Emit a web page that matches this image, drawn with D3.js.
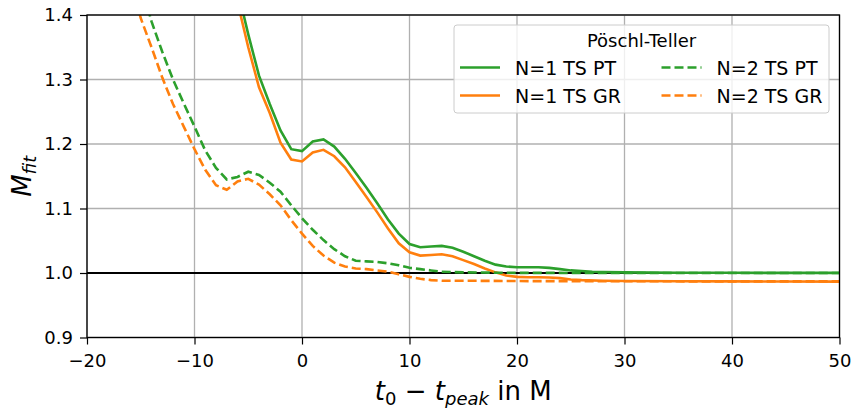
<!DOCTYPE html>
<html lang="en">
<head>
<meta charset="utf-8">
<title>M_fit</title>
<script src="https://cdn.jsdelivr.net/npm/d3@7/dist/d3.min.js"></script>
<style>
  body { margin: 0; background: #fff; }
  svg text { font-family: "DejaVu Sans", sans-serif; fill: #000; }
</style>
</head>
<body>
<svg width="853" height="408"></svg>
<script>
// values
var n1ptT = [-6, -5, -4, -3, -2, -1, 0, 1, 2, 3, 4, 5, 6, 7, 8, 9, 10, 11, 12, 13, 14, 15, 16, 17, 18, 19, 20, 21, 22, 23, 24, 25, 26, 27, 28, 30, 35, 40, 45, 50];
var n1ptM = [1.44, 1.37, 1.306, 1.262, 1.221, 1.192, 1.189, 1.204, 1.207, 1.196, 1.177, 1.155, 1.132, 1.108, 1.083, 1.061, 1.045, 1.040, 1.041, 1.042, 1.039, 1.033, 1.026, 1.019, 1.013, 1.010, 1.009, 1.009, 1.009, 1.008, 1.006, 1.004, 1.003, 1.002, 1.0015, 1.001, 1.0005, 1.0003, 1.0002, 1.0002];

var n1grT = [-6, -5, -4, -3, -2, -1, 0, 1, 2, 3, 4, 5, 6, 7, 8, 9, 10, 11, 12, 13, 14, 15, 16, 17, 18, 19, 20, 21, 22, 23, 24, 25, 26, 28, 30, 35, 40, 45, 50];
var n1grM = [1.42, 1.35, 1.288, 1.248, 1.202, 1.176, 1.173, 1.187, 1.191, 1.181, 1.164, 1.141, 1.118, 1.094, 1.069, 1.046, 1.032, 1.027, 1.028, 1.029, 1.026, 1.020, 1.014, 1.007, 1.001, 0.996, 0.994, 0.9935, 0.9933, 0.993, 0.992, 0.990, 0.989, 0.988, 0.9876, 0.9872, 0.987, 0.9868, 0.9866];

var n2ptT = [-15, -14, -13, -12, -11, -10, -9, -8, -7, -6, -5, -4, -3, -2, -1, 0, 1, 2, 3, 4, 5, 6, 7, 8, 9, 10, 11, 12, 13, 15, 18, 20, 30, 40, 50];
var n2ptM = [1.45, 1.39, 1.343, 1.30, 1.263, 1.227, 1.190, 1.163, 1.145, 1.149, 1.157, 1.152, 1.140, 1.126, 1.105, 1.085, 1.067, 1.051, 1.037, 1.026, 1.019, 1.018, 1.017, 1.015, 1.012, 1.008, 1.006, 1.004, 1.002, 1.001, 1.0005, 1.0002, 1.0, 1.0, 1.0];

var n2grT = [-16, -15, -14, -13, -12, -11, -10, -9, -8, -7, -6, -5, -4, -3, -2, -1, 0, 1, 2, 3, 4, 5, 6, 7, 8, 9, 10, 11, 12, 13, 15, 20, 30, 40, 50];
var n2grM = [1.46, 1.395, 1.35, 1.303, 1.262, 1.227, 1.192, 1.160, 1.136, 1.129, 1.142, 1.146, 1.137, 1.122, 1.105, 1.082, 1.061, 1.042, 1.027, 1.016, 1.010, 1.007, 1.006, 1.004, 1.002, 0.998, 0.994, 0.991, 0.989, 0.988, 0.988, 0.9875, 0.9872, 0.987, 0.987];

var xTicks = [-20, -10, 0, 10, 20, 30, 40, 50];
var yTicks = [0.9, 1.0, 1.1, 1.2, 1.3, 1.4];
var seriesNames = ['N=1 TS PT', 'N=1 TS GR', 'N=2 TS PT', 'N=2 TS GR'];
var legendTitle = 'Pöschl-Teller';

var green = '#2ca02c', orange = '#ff7f0e';
var series = [
  {name: seriesNames[0], t: n1ptT, m: n1ptM, color: green, dash: null},
  {name: seriesNames[1], t: n1grT, m: n1grM, color: orange, dash: null},
  {name: seriesNames[2], t: n2ptT, m: n2ptM, color: green, dash: '9,4'},
  {name: seriesNames[3], t: n2grT, m: n2grM, color: orange, dash: '9,4'}
];

var pL = 87, pR = 839.5, pT = 15, pB = 337.5;
var x = d3.scaleLinear().domain([-20, 50]).range([pL, pR]);
var y = d3.scaleLinear().domain([0.9, 1.4]).range([pB, pT]);

var svg = d3.select('svg');

svg.append('defs').append('clipPath').attr('id', 'plotclip')
  .append('rect').attr('x', pL).attr('y', pT)
  .attr('width', pR - pL).attr('height', pB - pT);

// grid
var grid = svg.append('g');
grid.selectAll('line.vx').data(xTicks).enter().append('line')
  .attr('x1', d => x(d)).attr('x2', d => x(d))
  .attr('y1', pT).attr('y2', pB)
  .attr('stroke', '#b0b0b0').attr('stroke-width', 1.3);
grid.selectAll('line.hy').data(yTicks).enter().append('line')
  .attr('y1', d => y(d)).attr('y2', d => y(d))
  .attr('x1', pL).attr('x2', pR)
  .attr('stroke', '#b0b0b0').attr('stroke-width', 1.3);

var plot = svg.append('g').attr('clip-path', 'url(#plotclip)');

// reference line at M = 1
plot.append('line')
  .attr('x1', x(-20)).attr('x2', x(50))
  .attr('y1', y(1)).attr('y2', y(1))
  .attr('stroke', '#000').attr('stroke-width', 2);

var line = d3.line().x(d => x(d[0])).y(d => y(d[1]));

series.forEach(s => {
  plot.append('path')
    .datum(d3.zip(s.t, s.m))
    .attr('d', line)
    .attr('fill', 'none')
    .attr('stroke', s.color)
    .attr('stroke-width', 2.6)
    .attr('stroke-dasharray', s.dash);
});

// axes
var xAxis = svg.append('g').attr('transform', 'translate(0,' + pB + ')')
  .call(d3.axisBottom(x).tickValues(xTicks).tickSize(7).tickPadding(10)
    .tickFormat(d => d < 0 ? '\u2212' + Math.abs(d) : d));
var yAxis = svg.append('g').attr('transform', 'translate(' + pL + ',0)')
  .call(d3.axisLeft(y).tickValues(yTicks).tickSize(7).tickPadding(7)
    .tickFormat(d3.format('.1f')));
[xAxis, yAxis].forEach(a => {
  a.select('.domain').remove();
  a.selectAll('line').attr('stroke', '#000').attr('stroke-width', 1.2);
  a.selectAll('text').style('font-size', '18px').attr('font-family', 'DejaVu Sans');
});

// frame
svg.append('rect')
  .attr('x', pL).attr('y', pT)
  .attr('width', pR - pL).attr('height', pB - pT)
  .attr('fill', 'none').attr('stroke', '#000').attr('stroke-width', 1.3);

// axis labels
var xl = svg.append('text')
  .attr('x', (pL + pR) / 2).attr('y', 400)
  .attr('text-anchor', 'middle').style('font-size', '26px');
xl.append('tspan').attr('font-style', 'italic').text('t');
xl.append('tspan').attr('dy', 5).style('font-size', '18px').text('0');
xl.append('tspan').attr('dy', -5).text(' \u2212 ');
xl.append('tspan').attr('font-style', 'italic').text('t');
xl.append('tspan').attr('dy', 5).attr('font-style', 'italic').style('font-size', '18px').text('peak');
xl.append('tspan').attr('dy', -5).text(' in M');

var yl = svg.append('text')
  .attr('transform', 'translate(31,' + ((pT + pB) / 2) + ') rotate(-90)')
  .attr('text-anchor', 'middle').style('font-size', '26px');
yl.append('tspan').attr('font-style', 'italic').text('M');
yl.append('tspan').attr('dy', 5).attr('font-style', 'italic').style('font-size', '18px').text('fit');

// legend
var lg = svg.append('g');
lg.append('rect')
  .attr('x', 454).attr('y', 25).attr('width', 375).attr('height', 88)
  .attr('rx', 3).attr('fill', 'rgba(255,255,255,0.8)')
  .attr('stroke', '#cccccc').attr('stroke-width', 1);
lg.append('text').attr('x', 641.5).attr('y', 46.5)
  .attr('text-anchor', 'middle').style('font-size', '18px').text(legendTitle);
var cols = [460, 661.5], rows = [67.5, 95.5];
series.forEach((s, i) => {
  var cx = cols[Math.floor(i / 2)], cy = rows[i % 2];
  lg.append('line')
    .attr('x1', cx).attr('x2', cx + 40).attr('y1', cy).attr('y2', cy)
    .attr('stroke', s.color).attr('stroke-width', 2.6)
    .attr('stroke-dasharray', s.dash);
  lg.append('text').attr('x', cx + 55).attr('y', cy + 7)
    .style('font-size', '19px').text(s.name);
});
</script>
</body>
</html>
